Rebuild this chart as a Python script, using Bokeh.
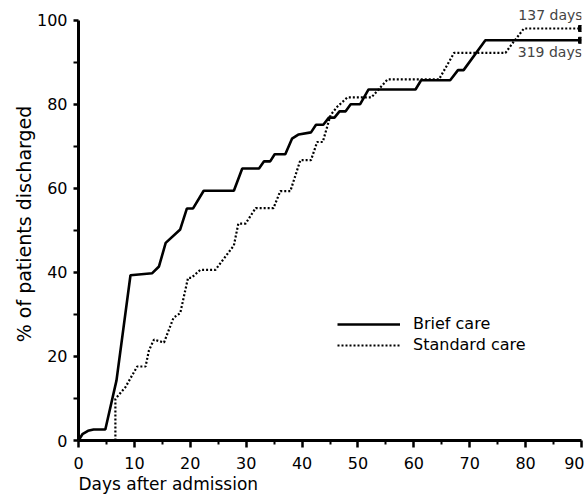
from bokeh.plotting import figure
from bokeh.models import Range1d, Label, Legend, LegendItem, FixedTicker, Title
from bokeh.embed import file_html
from bokeh.resources import INLINE

# Brief care (solid) cumulative % discharged
brief_days = [0, 0.7, 1.7, 2.7, 4.8, 6.8, 9.3, 13.2, 14.4, 15.6, 18.2, 19.4, 20.5, 22.4,
              27.8, 29.3, 32.3, 33.2, 34.3, 35.1, 37.0, 38.2, 39.4, 41.6, 42.5, 43.8,
              44.8, 45.8, 46.7, 47.8, 48.7, 50.4, 51.9, 60.3, 61.3, 66.5, 67.9, 68.9,
              72.8, 90]
brief_pct = [0, 1.5, 2.3, 2.6, 2.6, 14.3, 39.3, 39.8, 41.4, 47.0, 50.2, 55.2, 55.2, 59.4,
             59.4, 64.7, 64.7, 66.4, 66.4, 68.1, 68.1, 71.8, 72.8, 73.3, 75.1, 75.1,
             76.8, 76.8, 78.3, 78.3, 80.0, 80.0, 83.5, 83.5, 85.7, 85.7, 88.1, 88.1,
             95.2, 95.2]

# Standard care (dotted)
std_days = [6.6, 6.6, 8.4, 10.5, 12.0, 12.6, 13.5, 15.3, 17.0, 18.2, 19.6, 20.2, 21.8,
            24.5, 27.8, 28.6, 29.9, 31.7, 34.9, 36.1, 37.9, 39.7, 41.6, 42.7, 43.7,
            45.1, 46.3, 48.1, 52.4, 55.3, 64.5, 67.2, 76.4, 77.6, 79.7, 90]
std_pct = [0, 9.9, 12.7, 17.6, 17.6, 21.4, 24.0, 23.3, 29.2, 30.3, 38.7, 38.7, 40.6,
           40.6, 46.4, 51.6, 51.6, 55.3, 55.3, 59.3, 59.3, 66.7, 66.7, 71.0, 71.0,
           77.4, 79.4, 81.6, 81.6, 85.9, 85.9, 92.2, 92.2, 94.4, 98.0, 98.0]

end_days = [90, 90]
end_pct = [95.2, 98.0]
end_labels = ["319 days", "137 days"]

x_ticks = [0, 10, 20, 30, 40, 50, 60, 70, 80, 90]
y_ticks = [0, 20, 40, 60, 80, 100]

FONT = "DejaVu Sans"

p = figure(width=584, height=495, output_backend="svg", toolbar_location=None,
           x_range=Range1d(0, 90), y_range=Range1d(0, 103),
           min_border_left=78, min_border_right=3, min_border_top=7, min_border_bottom=55)
p.outline_line_color = None
p.background_fill_color = "white"
p.grid.visible = False

for ax in (p.xaxis[0], p.yaxis[0]):
    ax.axis_line_width = 3
    ax.axis_line_color = "black"
    ax.major_tick_line_width = 2.5
    ax.minor_tick_line_width = 2
    ax.major_tick_in = 0
    ax.minor_tick_in = 0
    ax.major_label_text_font = FONT
    ax.major_label_text_font_size = "16px"
    ax.major_label_text_color = "black"

p.yaxis.bounds = (0, 100)
p.xaxis.ticker = FixedTicker(ticks=x_ticks, minor_ticks=[5, 15, 25, 35, 45, 55, 65, 75, 85])
p.yaxis.ticker = FixedTicker(ticks=y_ticks, minor_ticks=[10, 30, 50, 70, 90])
p.xaxis.major_tick_out = 7
p.xaxis.minor_tick_out = 4
p.yaxis.major_tick_out = 5
p.yaxis.minor_tick_out = 5
p.xaxis.major_label_standoff = 9
p.yaxis.major_label_standoff = 6

p.yaxis.axis_label = "% of patients discharged"
p.yaxis.axis_label_text_font = FONT
p.yaxis.axis_label_text_font_size = "19px"
p.yaxis.axis_label_text_font_style = "normal"
p.yaxis.axis_label_text_color = "black"
p.yaxis.axis_label_standoff = -1

r_brief = p.line(brief_days, brief_pct, line_color="black", line_width=2.6)
r_std = p.line(std_days, std_pct, line_color="black", line_width=2.2, line_dash="2 2")
p.scatter(end_days, end_pct, marker="square", size=6, color="black")

legend = Legend(items=[LegendItem(label="Brief care", renderers=[r_brief]),
                       LegendItem(label="Standard care", renderers=[r_std])],
                location=(259, 86), padding=0, margin=0, spacing=2,
                glyph_width=63, glyph_height=16, label_height=16, label_standoff=13,
                label_text_font=FONT, label_text_font_size="16px",
                label_text_color="black",
                background_fill_alpha=0, border_line_alpha=0)
p.add_layout(legend)

p.add_layout(Label(x=78.7, y=101.2, text=end_labels[1], text_font=FONT,
                   text_font_size="14px", text_baseline="middle"))
p.add_layout(Label(x=78.6, y=92.4, text=end_labels[0], text_font=FONT,
                   text_font_size="14px", text_baseline="middle"))

xlab = Title(text="Days after admission", align="left", text_font=FONT,
             text_font_size="17px", text_font_style="normal", text_color="black",
             standoff=0, offset=0)
p.add_layout(xlab, "below")

open("out.html", "w").write(file_html(p, INLINE))
